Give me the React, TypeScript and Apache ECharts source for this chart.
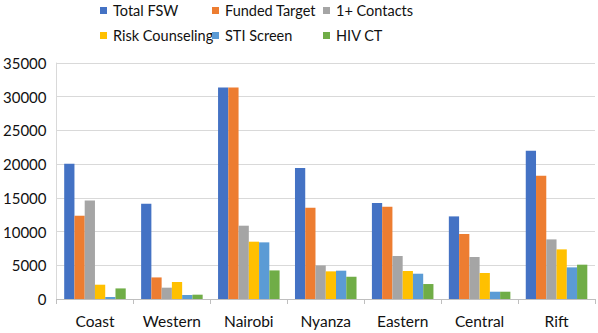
import React, { useEffect, useRef } from "react";
import * as echarts from "echarts";

const categories = ["Coast", "Western", "Nairobi", "Nyanza", "Eastern", "Central", "Rift"];
const seriesNames = ["Total FSW", "Funded Target", "1+ Contacts", "Risk Counseling", "STI Screen", "HIV CT"];
const totalFSW = [20050, 14130, 31380, 19430, 14240, 12250, 21990];
const fundedTarget = [12350, 3200, 31380, 13540, 13690, 9640, 18290];
const contacts = [14620, 1680, 10870, 4980, 6380, 6230, 8840];
const riskCounseling = [2120, 2520, 8500, 4100, 4150, 3860, 7360];
const stiScreen = [300, 590, 8400, 4200, 3750, 1080, 4690];
const hivCT = [1570, 640, 4240, 3300, 2220, 1080, 5090];
const colors = ["#4472C4", "#ED7D31", "#A5A5A5", "#FFC000", "#5B9BD5", "#70AD47"];

const allValues = [totalFSW, fundedTarget, contacts, riskCounseling, stiScreen, hivCT];

export default function App() {
  const ref = useRef<HTMLDivElement>(null);
  useEffect(() => {
    if (!ref.current) return;
    const chart = echarts.init(ref.current, undefined, { renderer: "svg" });
    const font = "Lato";
    const legendPos = [
      [100, 3],
      [212, 3],
      [323, 3],
      [100, 28],
      [212, 28],
      [323, 28],
    ];
    chart.setOption({
      animation: false,
      textStyle: { fontFamily: font },
      legend: seriesNames.map((n, i) => ({
        data: [n],
        left: legendPos[i][0],
        top: legendPos[i][1],
        icon: "rect",
        itemWidth: 7,
        itemHeight: 7,
        itemGap: 0,
        padding: 0,
        selectedMode: false,
        textStyle: { fontFamily: font, fontSize: 14.5, color: "#111", padding: [0, 0, 0, 1] },
      })),
      grid: { left: 55, right: 3, top: 63, bottom: 34, containLabel: false },
      xAxis: {
        type: "category",
        data: categories,
        axisLine: { lineStyle: { color: "#BFBFBF" } },
        axisTick: { show: true, length: 5, lineStyle: { color: "#BFBFBF" } },
        axisLabel: { fontFamily: font, fontSize: 15.5, color: "#111", margin: 14 },
      },
      yAxis: {
        type: "value",
        min: 0,
        max: 35000,
        interval: 5000,
        axisLine: { show: true, lineStyle: { color: "#D9D9D9" } },
        axisTick: { show: false },
        splitLine: { lineStyle: { color: "#D9D9D9" } },
        axisLabel: {
          fontFamily: font,
          fontSize: 15,
          color: "#111",
          margin: 10,
          formatter: (v: number) => String(v),
        },
      },
      series: seriesNames.map((n, i) => ({
        name: n,
        type: "bar",
        data: allValues[i],
        barGap: "0%",
        barCategoryGap: "20%",
        itemStyle: { color: colors[i] },
      })),
    });
    return () => chart.dispose();
  }, []);
  return <div ref={ref} style={{ width: 598, height: 333, position: "absolute", left: 0, top: 0 }} />;
}
